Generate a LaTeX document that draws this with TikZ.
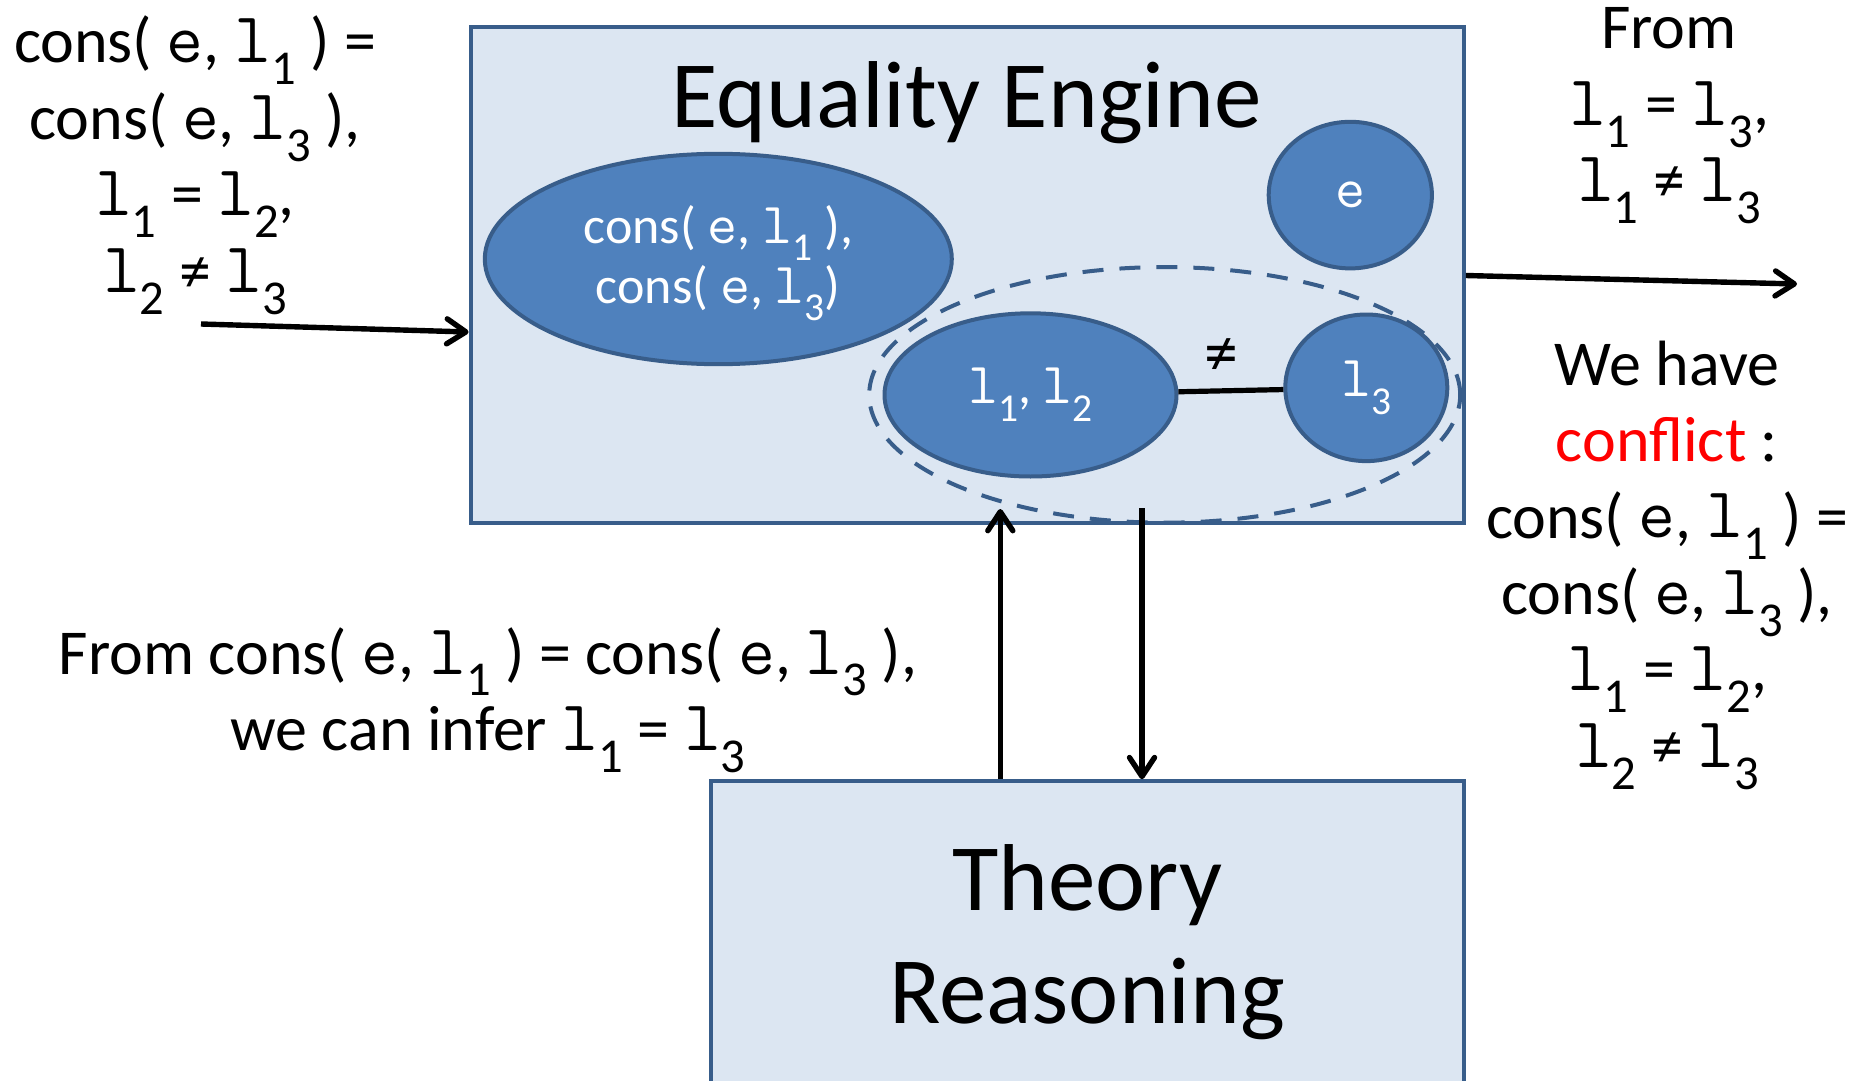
\documentclass[tikz,border=0pt]{standalone}
\usepackage{fontspec}
\usepackage{graphicx}
\setmainfont{Carlito}
\usetikzlibrary{shapes.geometric,arrows.meta}

\definecolor{boxfill}{HTML}{DCE6F2}
\definecolor{boxline}{HTML}{385D8A}
\definecolor{blobfill}{HTML}{4F81BD}
\definecolor{hot}{HTML}{FF0000}

% typewriter variable names and lowered index digits
\newcommand\tv[1]{{\ttfamily\scalebox{1.12}{#1}}}
\newcommand\sub[1]{\raisebox{-0.34em}{\scalebox{0.76}{#1}}}
% centred stack of lines whose baseline is the first line
\newcommand\lines[1]{\begin{tabular}[t]{@{}c@{}}#1\end{tabular}}

\begin{document}
\begin{tikzpicture}[x=0.5pt,y=-0.5pt,
  panel/.style={rectangle, draw=boxline, fill=boxfill, line width=2pt, inner sep=0},
  blob/.style={ellipse, draw=boxline, fill=blobfill, line width=2pt, inner sep=0,
    text=white, font=\fontsize{26}{30}\selectfont},
  classring/.style={ellipse, draw=boxline, line width=2pt, inner sep=0,
    dash pattern=on 10.5pt off 8pt},
  body/.style={inner sep=0, anchor=base, font=\fontsize{32}{38.25}\selectfont},
  heading/.style={inner sep=0, anchor=base, font=\fontsize{47.5}{56.5}\selectfont},
  arr/.style={line width=2.7pt,
    -{Straight Barb[length=9.5pt,width=12.5pt,round]}}]

\useasboundingbox (0,0) rectangle (1854,1081);
\fill[white] (0,0) rectangle (1854,1081);
\clip (0,0) rectangle (1854,1081);

% equality engine
\node[panel, minimum width=496.6pt, minimum height=247.7pt] (eng) at (967.2,274.9) {};
\node[heading] (engTitle) at (967,128) {Equality Engine};

\node[blob, minimum width=233.5pt, minimum height=105.2pt] (pairs) at (718.3,259) {};
\node[blob, draw=none, fill=none, anchor=base] (pairsText) at (718.3,243)
  {\lines{cons(~\tv{e}, \tv{l}\sub{1}~),\\cons(~\tv{e}, \tv{l}\sub{3})}};
\node[blob, minimum width=81.6pt, minimum height=73.3pt] (eNode) at (1350.3,195.1) {\tv{e}};
\node[blob, minimum width=146pt, minimum height=81.6pt] (l12) at (1030.5,394.9)
  {\tv{l}\sub{1}, \tv{l}\sub{2}};
\node[blob, minimum width=81pt, minimum height=73.3pt] (l3) at (1366.3,387.8) {\tv{l}\sub{3}};
\node[classring, minimum width=295.5pt, minimum height=127.8pt] (cls) at (1164.7,394.9) {};

\draw[line width=2.6pt] (l12) -- (l3);
\node[inner sep=0, font=\fontsize{34}{38}\selectfont] (neq) at (1221,357) {≠};

% theory reasoning
\node[panel, minimum width=376.6pt, minimum height=170pt, anchor=north] (theory) at (1087.2,779.2) {};
\node[heading] (theoryText) at (1087.2,910) {\lines{Theory\\Reasoning}};

% annotations
\node[body] (given) at (195,63)
  {\lines{cons(~\tv{e}, \tv{l}\sub{1}~) =\\cons(~\tv{e}, \tv{l}\sub{3}~),\\
   \tv{l}\sub{1} = \tv{l}\sub{2},\\\tv{l}\sub{2} ≠ \tv{l}\sub{3}}};
\node[body] (derived) at (1669,49)
  {\lines{From\\\tv{l}\sub{1} = \tv{l}\sub{3},\\\tv{l}\sub{1} ≠ \tv{l}\sub{3}}};
\node[body] (verdict) at (1667,385)
  {\lines{We have\\\textcolor{hot}{conflict} :\\cons(~\tv{e}, \tv{l}\sub{1}~) =\\
   cons(~\tv{e}, \tv{l}\sub{3}~),\\\tv{l}\sub{1} = \tv{l}\sub{2},\\\tv{l}\sub{2} ≠ \tv{l}\sub{3}}};
\node[body] (infer) at (488,674)
  {\lines{From cons(~\tv{e}, \tv{l}\sub{1}~) = cons(~\tv{e}, \tv{l}\sub{3}~),\\
   we can infer \tv{l}\sub{1} = \tv{l}\sub{3}}};

% connectors
\coordinate (inStart) at (201,324);
\coordinate (inLvl) at (0,332);
\draw[arr] (inStart) -- (eng.west |- inLvl);
\coordinate (outLvl) at (0,275.5);
\coordinate (outEnd) at (1797,284);
\draw[arr] (eng.east |- outLvl) -- (outEnd);
\coordinate (upTip) at (1000.3,509);
\coordinate (downTail) at (1142,508);
\draw[arr] (theory.north -| upTip) -- (upTip);
\draw[arr] (downTail) -- (theory.north -| downTail);
\end{tikzpicture}
\end{document}
